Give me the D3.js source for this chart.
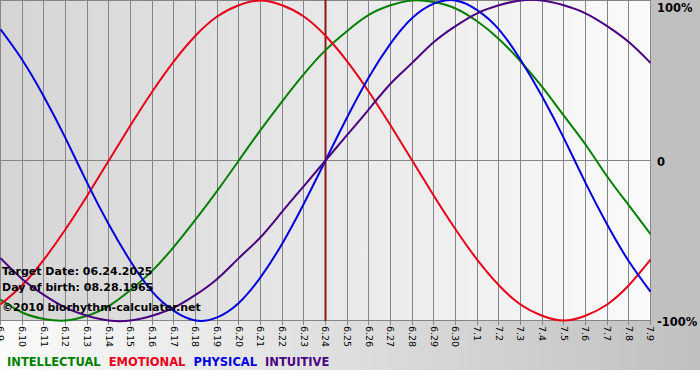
<!DOCTYPE html>
<html>
<head>
  <script src="https://d3js.org/d3.v7.min.js"></script>
  <style>
    body {
  margin: 0;
  background: #ffffff;
  font-family: 'DejaVu Sans', Verdana, sans-serif;
}
svg {
  display: block;
}
.grid line {
  stroke: #858585;
  stroke-width: 1px;
  shape-rendering: crispEdges;
}
.curve {
  fill: none;
  stroke-width: 2px;
}
  </style>
</head>
<body>
<script>
// Days shown on the x axis
const days = ["6.9","6.10","6.11","6.12","6.13","6.14","6.15","6.16","6.17","6.18","6.19",
  "6.20","6.21","6.22","6.23","6.24","6.25","6.26","6.27","6.28","6.29","6.30",
  "7.1","7.2","7.3","7.4","7.5","7.6","7.7","7.8","7.9"];

// Cycle values, -1 .. 1
const intellectual = [-0.87,-0.95,-0.99,-1.00,-0.97,-0.91,-0.81,-0.69,-0.54,-0.37,-0.19,
  0,0.19,0.37,0.54,0.69,0.81,0.91,0.97,1.00,0.99,0.95,0.87,0.76,0.62,0.46,0.28,0.10,-0.10,-0.28,-0.46];
const emotional = [-0.90,-0.78,-0.62,-0.43,-0.22,0,0.22,0.43,0.62,0.78,0.90,
  0.97,1.00,0.97,0.90,0.78,0.62,0.43,0.22,0,-0.22,-0.43,-0.62,-0.78,-0.90,-0.97,-1.00,-0.97,-0.90,-0.78,-0.62];
const physical = [0.82,0.63,0.40,0.14,-0.14,-0.40,-0.63,-0.82,-0.94,-1.00,-0.98,
  -0.89,-0.73,-0.52,-0.27,0,0.27,0.52,0.73,0.89,0.98,1.00,0.94,0.82,0.63,0.40,0.14,-0.14,-0.40,-0.63,-0.82];
const intuitive = [-0.61,-0.74,-0.84,-0.92,-0.97,-1.00,-1.00,-0.97,-0.92,-0.84,-0.74,
  -0.61,-0.48,-0.32,-0.16,0,0.16,0.32,0.48,0.61,0.74,0.84,0.92,0.97,1.00,1.00,0.97,0.92,0.84,0.74,0.61];

const targetDay = "6.24";
const yTicks = [1, 0, -1];
const yTickLabels = ["100%", "0", "-100%"];

const seriesNames = ["INTELLECTUAL", "EMOTIONAL", "PHYSICAL", "INTUITIVE"];
const seriesColors = ["#008000", "#e8001a", "#0000e0", "#4b0082"];
const seriesValues = [intellectual, emotional, physical, intuitive];

const infoLines = ["Target Date: 06.24.2025", "Day of birth: 08.28.1965", "\u00a92010 biorhythm-calculater.net"];

const width = 700, height = 380;
const plotW = 651, plotH = 321;

const svg = d3.select("body").append("svg")
  .attr("width", width)
  .attr("height", height);

const defs = svg.append("defs");
const gPlot = defs.append("linearGradient").attr("id", "plotBg");
gPlot.append("stop").attr("offset", "0%").attr("stop-color", "#d5d5d5");
gPlot.append("stop").attr("offset", "100%").attr("stop-color", "#fbfbfb");
const gBottom = defs.append("linearGradient").attr("id", "bottomBg");
gBottom.append("stop").attr("offset", "0%").attr("stop-color", "#fbfbfb");
gBottom.append("stop").attr("offset", "100%").attr("stop-color", "#c0c0c0");

// backgrounds
svg.append("rect").attr("x", 0).attr("y", plotH).attr("width", width).attr("height", 370 - plotH)
  .attr("fill", "url(#bottomBg)");
svg.append("rect").attr("x", plotW).attr("y", 0).attr("width", width - plotW).attr("height", plotH)
  .attr("fill", "#c0c0c0");
svg.append("rect").attr("x", 0).attr("y", 0).attr("width", plotW).attr("height", plotH)
  .attr("fill", "url(#plotBg)");

const x = d3.scalePoint().domain(days).range([0.5, plotW - 0.5]);
const y = d3.scaleLinear().domain([-1, 1]).range([plotH - 0.5, 0.5]);

// grid
const grid = svg.append("g").attr("class", "grid");
grid.selectAll("line.v").data(days).enter().append("line")
  .attr("class", "v")
  .attr("x1", d => x(d)).attr("x2", d => x(d))
  .attr("y1", 0).attr("y2", plotH + 4);
grid.selectAll("line.h").data(yTicks).enter().append("line")
  .attr("class", "h")
  .attr("x1", 0).attr("x2", plotW)
  .attr("y1", d => y(d)).attr("y2", d => y(d));

// target day marker
svg.append("line")
  .attr("x1", x(targetDay)).attr("x2", x(targetDay))
  .attr("y1", 0).attr("y2", plotH)
  .attr("stroke", "#8a1818")
  .attr("stroke-width", 2);

// curves
const line = d3.line()
  .x((v, i) => x(days[i]))
  .y(v => y(v))
  .curve(d3.curveNatural);

svg.selectAll("path.curve").data(seriesValues).enter().append("path")
  .attr("class", "curve")
  .attr("stroke", (d, i) => seriesColors[i])
  .attr("d", d => line(d));

// info text
svg.selectAll("text.info").data(infoLines).enter().append("text")
  .attr("class", "info")
  .attr("x", 2)
  .attr("y", (d, i) => [275, 291, 311][i])
  .attr("font-size", "11px")
  .attr("font-weight", "bold")
  .attr("fill", "#000")
  .text(d => d);

// x tick labels
svg.selectAll("text.xt").data(days).enter().append("text")
  .attr("class", "xt")
  .attr("transform", d => `translate(${x(d)},${plotH + 5}) rotate(90)`)
  .attr("dy", "0.35em")
  .attr("font-size", "9.5px")
  .attr("fill", "#000")
  .text(d => d);

// y labels on the right
svg.selectAll("text.yt").data(yTicks).enter().append("text")
  .attr("class", "yt")
  .attr("x", plotW + 6)
  .attr("y", d => Math.max(y(d) + 5, 12))
  .attr("font-size", "11.5px")
  .attr("font-weight", "bold")
  .attr("fill", "#000")
  .text((d, i) => yTickLabels[i]);

// legend
let lx = 7;
seriesNames.forEach((name, i) => {
  const t = svg.append("text")
    .attr("x", lx)
    .attr("y", 366)
    .attr("font-size", "11.5px")
    .attr("font-weight", "bold")
    .attr("fill", seriesColors[i])
    .text(name);
  lx += t.node().getComputedTextLength() + 8;
});
</script>
</body>
</html>
